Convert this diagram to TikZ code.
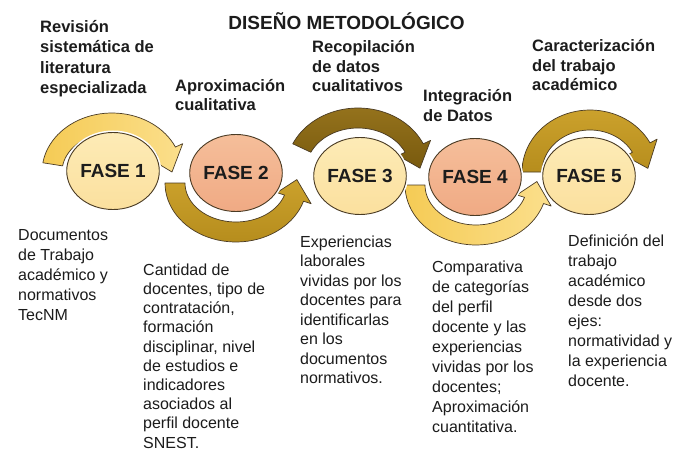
\documentclass[tikz,border=0pt]{standalone}
\usepackage{fontspec}
\setmainfont{Liberation Sans}
\usetikzlibrary{shapes.geometric}
\definecolor{txt}{HTML}{1C1C1C}
\definecolor{edge}{HTML}{4A3B24}
\definecolor{lightA}{HTML}{F5CB55}
\definecolor{lightB}{HTML}{FBDF8C}
\definecolor{goldA}{HTML}{CBA12C}
\definecolor{goldB}{HTML}{B68D1D}
\definecolor{darkA}{HTML}{94721C}
\definecolor{darkB}{HTML}{795A0E}
\definecolor{paleA}{HTML}{FDEBB6}
\definecolor{paleB}{HTML}{FBE09E}
\definecolor{salA}{HTML}{F5BE9A}
\definecolor{salB}{HTML}{F0AA84}
\newcommand{\arrbw}{10}
\newcommand{\arrhw}{18}
\newcommand{\fstrut}{\rule{0pt}{15pt}}
% #1 style, #2 cx, #3 cy, #4 rx, #5 ry, #6 start angle, #7 end angle, #8 tip angle
\newcommand{\ringarrow}[8]{%
  \path[#1] plot[domain=#6:#7,samples=40] ({#2+(#4+\arrbw)*cos(\x)},{#3+(#5+\arrbw)*sin(\x)})
   -- ({#2+(#4+\arrhw)*cos(#7)},{#3+(#5+\arrhw)*sin(#7)})
   -- ({#2+#4*cos(#8)},{#3+#5*sin(#8)})
   -- ({#2+(#4-\arrhw)*cos(#7)},{#3+(#5-\arrhw)*sin(#7)})
   -- plot[domain=#7:#6,samples=40] ({#2+(#4-\arrbw)*cos(\x)},{#3+(#5-\arrbw)*sin(\x)})
   -- cycle;}
\begin{document}
\begin{tikzpicture}[x=1pt,y=-1pt,
  arrowbase/.style={draw=edge, line width=0.7pt, line join=round},
  arrowlight/.style={arrowbase, left color=lightA, right color=lightB},
  arrowgold/.style={arrowbase, top color=goldA, bottom color=goldB},
  arrowdark/.style={arrowbase, top color=darkA, bottom color=darkB},
  phase/.style={ellipse, minimum width=84, minimum height=77, inner sep=0pt,
    draw=edge, line width=0.9pt, preaction={draw=white, line width=4pt},
    text=txt, font=\fontsize{19}{23}\selectfont\bfseries},
  pale/.style={top color=paleA, bottom color=paleB},
  salmon/.style={top color=salA, bottom color=salB},
  toplbl/.style={anchor=north west, inner sep=0pt, align=left, text=txt,
    font=\fontsize{16.5}{20}\selectfont\bfseries},
  botlbl/.style={anchor=north west, inner sep=0pt, align=left, text=txt,
    font=\fontsize{16}{20}\selectfont}
]
\fill[white] (0,0) rectangle (695,457);
\useasboundingbox (0,0) rectangle (695,457);

% title
\node[anchor=base, inner sep=0pt, text=txt, font=\fontsize{19}{23}\selectfont\bfseries] (title) at (346.5,30) {DISEÑO METODOLÓGICO};

% curved arrows
\ringarrow{arrowlight}{112}{172}{60}{49}{189}{335}{360}
\ringarrow{arrowgold}{236}{183}{61}{49}{180}{18}{-4}
\ringarrow{arrowdark}{358}{170}{62}{52}{205}{335}{358}
\ringarrow{arrowlight}{476}{185}{61}{50}{180}{18}{-4}
\ringarrow{arrowgold}{590}{172}{58}{52}{180}{332}{356}

% phases
\node[phase, pale]   (f1) at (113,171) {FASE 1};
\node[phase, salmon] (f2) at (236,173) {FASE 2};
\node[phase, pale]   (f3) at (360,176) {FASE 3};
\node[phase, salmon] (f4) at (475,177) {FASE 4};
\node[phase, pale]   (f5) at (589,176) {FASE 5};

% top labels
\node[toplbl, font=\fontsize{16.5}{20.5}\selectfont\bfseries] (t1) at (40,17) {\fstrut Revisión\\sistemática de\\literatura\\especializada};
\node[toplbl, font=\fontsize{16.5}{19}\selectfont\bfseries] (t2) at (175,76.7) {\fstrut Aproximación\\cualitativa};
\node[toplbl, font=\fontsize{16.5}{19.5}\selectfont\bfseries] (t3) at (312,37.5) {\fstrut Recopilación\\de datos\\cualitativos};
\node[toplbl] (t4) at (423,86) {\fstrut Integración\\de Datos};
\node[toplbl, font=\fontsize{16.5}{19.5}\selectfont\bfseries] (t5) at (532,36.7) {\fstrut Caracterización\\del trabajo\\académico};

% bottom labels
\node[botlbl, font=\fontsize{16}{19.8}\selectfont] (b1) at (18,225.7) {\fstrut Documentos\\de Trabajo\\académico y\\normativos\\TecNM};
\node[botlbl, font=\fontsize{16}{19.2}\selectfont] (b2) at (143,260) {\fstrut Cantidad de\\docentes, tipo de\\contratación,\\formación\\disciplinar, nivel\\de estudios e\\indicadores\\asociados al\\perfil docente\\SNEST.};
\node[botlbl, font=\fontsize{16}{19.5}\selectfont] (b3) at (300,232) {\fstrut Experiencias\\laborales\\vividas por los\\docentes para\\identificarlas\\en los\\documentos\\normativos.};
\node[botlbl] (b4) at (432,257.7) {\fstrut Comparativa\\de categorías\\del perfil\\docente y las\\experiencias\\vividas por los\\docentes;\\Aproximación\\cuantitativa.};
\node[botlbl] (b5) at (568,231) {\fstrut Definición del\\trabajo\\académico\\desde dos\\ejes:\\normatividad y\\la experiencia\\docente.};
\end{tikzpicture}
\end{document}
